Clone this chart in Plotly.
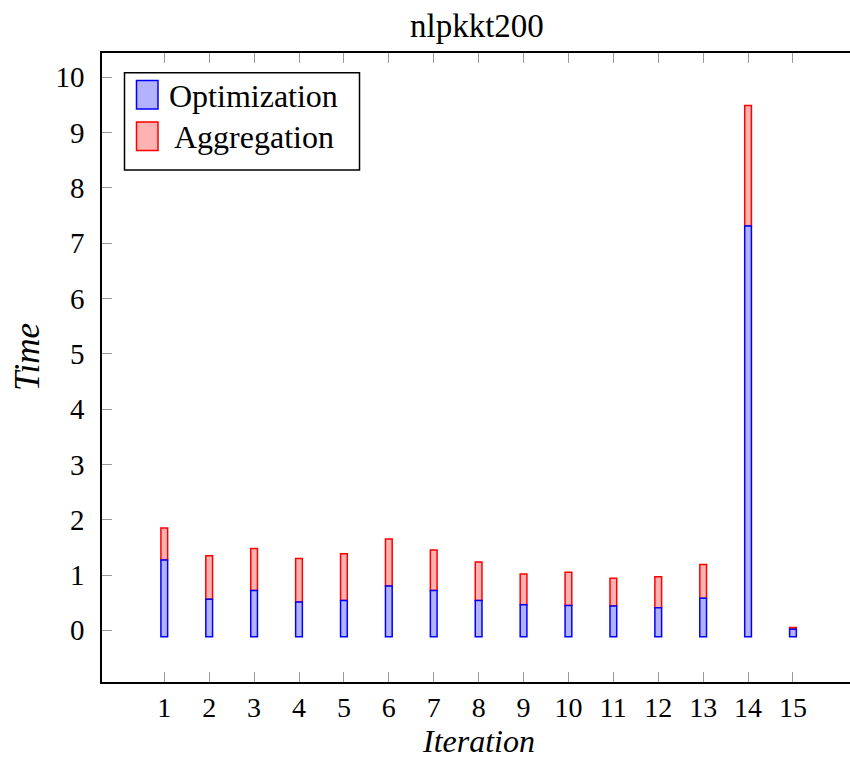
import plotly.graph_objects as go

# ---- data ----
iterations = list(range(1, 16))
optimization = [1.27, 0.56, 0.72, 0.51, 0.54, 0.80, 0.72, 0.54, 0.46, 0.45, 0.44, 0.41, 0.58, 7.31, 0.02]
aggregation = [0.58, 0.79, 0.76, 0.79, 0.845, 0.85, 0.73, 0.695, 0.56, 0.60, 0.50, 0.56, 0.61, 2.18, 0.03]
y_ticks = list(range(0, 11))
title_text = "nlpkkt200"
x_label = "Iteration"
y_label = "Time"
legend_labels = ["Optimization", "Aggregation"]

# ---- style ----
BAR_BASE = -0.115
BAR_W = 0.15
W, H = 850, 761
ML, MR, MT, MB = 102, 0, 53, 79
FONT = "Liberation Serif"
BLUE_FILL, BLUE_LINE = "rgb(178,178,255)", "rgb(0,0,255)"
RED_FILL, RED_LINE = "rgb(255,178,178)", "rgb(255,0,0)"
TICK_C = "#9a9a9a"

def px(x):
    return (x - ML) / (W - ML - MR)

def py(y):
    return 1 - (y - MT) / (H - MT - MB)

fig = go.Figure()
fig.add_trace(go.Bar(
    x=iterations, y=aggregation, base=optimization, width=BAR_W,
    marker=dict(color=RED_FILL, line=dict(color=RED_LINE, width=1.5)),
    name=legend_labels[1], showlegend=False))
fig.add_trace(go.Bar(
    x=iterations, y=[v - BAR_BASE for v in optimization], base=BAR_BASE, width=BAR_W,
    marker=dict(color=BLUE_FILL, line=dict(color=BLUE_LINE, width=1.5)),
    name=legend_labels[0], showlegend=False))

yr = [-0.935, 10.44]
fig.update_layout(
    width=W, height=H, margin=dict(l=ML, r=MR, t=MT, b=MB),
    paper_bgcolor="white", plot_bgcolor="white",
    barmode="overlay", showlegend=False,
    font=dict(family=FONT, size=30, color="black"),
    xaxis=dict(range=[-0.387, 16.27], tickvals=iterations, ticktext=[str(i) for i in iterations],
               ticks="inside", ticklen=10, tickcolor=TICK_C, tickwidth=1,
               showline=True, linecolor="black", linewidth=1.6, mirror="ticks",
               showgrid=False, zeroline=False, ticklabelstandoff=0,
               tickfont=dict(size=28)),
    yaxis=dict(range=yr, tickvals=y_ticks, ticks="inside", ticklen=10, tickcolor=TICK_C,
               tickwidth=1, showline=True, linecolor="black", linewidth=1.6,
               showgrid=False, zeroline=False, ticklabelstandoff=10,
               tickfont=dict(size=29)),
    yaxis2=dict(range=yr, overlaying="y", side="right", tickvals=y_ticks, ticks="inside",
                ticklen=4, tickcolor=TICK_C, tickwidth=1, showticklabels=False,
                showline=False, showgrid=False, zeroline=False),
)

anns = [
    dict(text=title_text, x=px(477), y=py(26), xanchor="center", yanchor="middle", font=dict(size=33)),
    dict(text="<i>%s</i>" % x_label, x=px(478), y=py(761), xanchor="center", yanchor="bottom", font=dict(size=32)),
    dict(text="<i>%s</i>" % y_label, x=px(27), y=py(357), xanchor="center", yanchor="middle",
         textangle=-90, font=dict(size=35)),
    dict(text=legend_labels[0], x=px(253.5), y=py(96), xanchor="center", yanchor="middle", font=dict(size=32)),
    dict(text=legend_labels[1], x=px(253.5), y=py(137), xanchor="center", yanchor="middle", font=dict(size=32)),
]
for a in anns:
    a.update(xref="paper", yref="paper", showarrow=False)
fig.update_layout(annotations=anns)

shapes = [
    dict(type="rect", x0=px(124.5), x1=px(359.5), y0=py(72.7), y1=py(170),
         line=dict(color="black", width=1.5), fillcolor="white"),
    dict(type="rect", x0=px(136.5), x1=px(158), y0=py(80.5), y1=py(109),
         line=dict(color=BLUE_LINE, width=1.5), fillcolor=BLUE_FILL),
    dict(type="rect", x0=px(136.5), x1=px(158), y0=py(122), y1=py(150.5),
         line=dict(color=RED_LINE, width=1.5), fillcolor=RED_FILL),
]
for s in shapes:
    s.update(xref="paper", yref="paper", layer="above")
fig.update_layout(shapes=shapes)

fig.write_html("out.html")
